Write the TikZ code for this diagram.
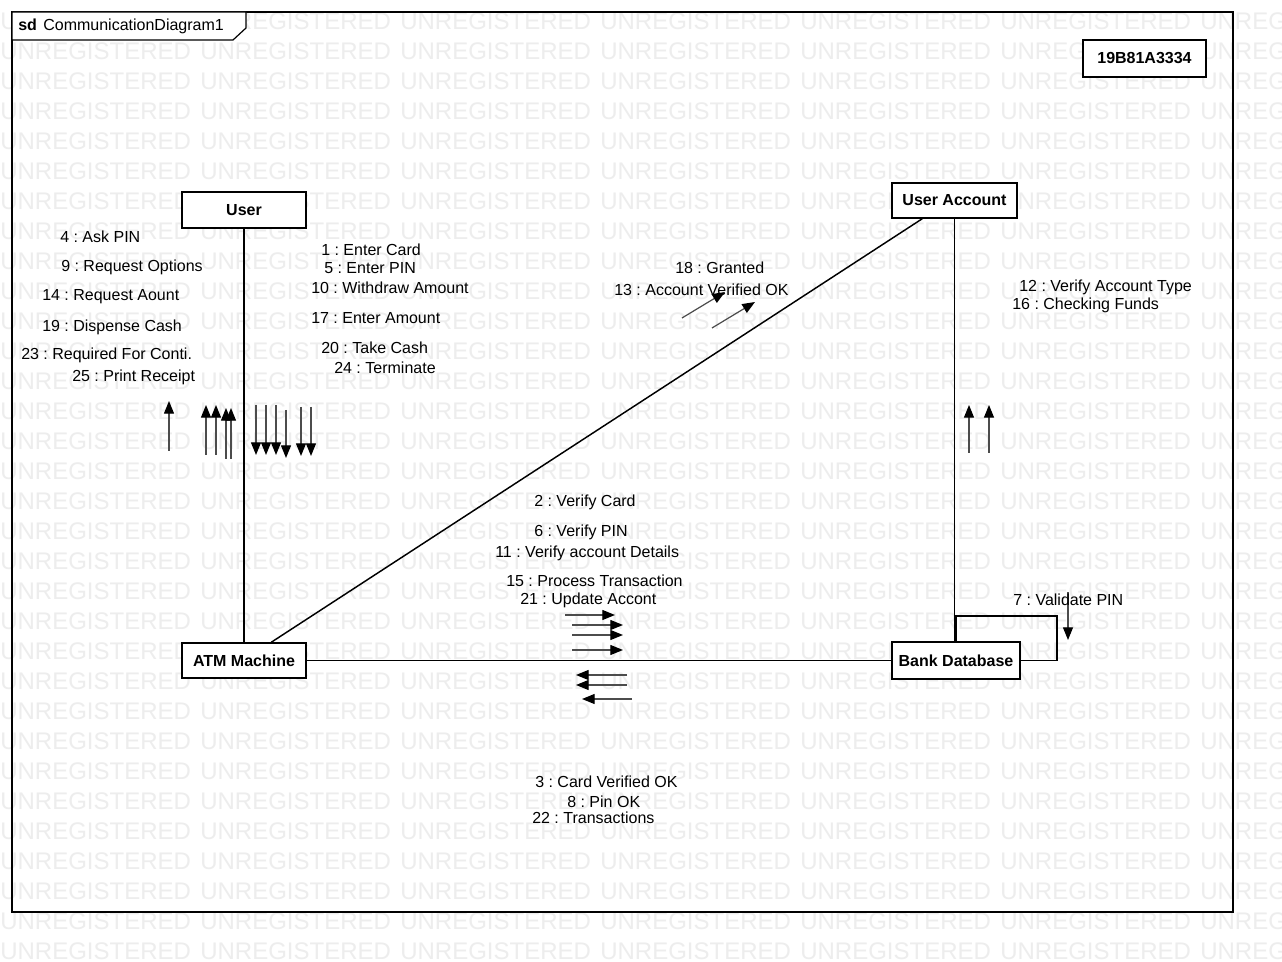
\documentclass[tikz,border=0pt]{standalone}
\usepackage{fontspec}
\setmainfont{Liberation Sans}
\usetikzlibrary{arrows.meta}
\begin{document}
\frenchspacing
\begin{tikzpicture}[x=0.75pt,y=-0.75pt,
  wm/.style={anchor=west,inner sep=0pt,text=black!7,font=\fontsize{18pt}{20pt}\selectfont},
  obj/.style={draw,fill=white,line width=1.1pt,font=\fontsize{12pt}{14pt}\selectfont\bfseries,inner sep=0pt},
  lbl/.style={anchor=west,inner sep=0pt,font=\fontsize{12pt}{14pt}\selectfont},
  conn/.style={line width=1.1pt},
  msg/.style={draw=black!70,line width=0.9pt,-{Triangle[length=9.5pt,width=7.5pt,color=black]}}]
\useasboundingbox (0,0) rectangle (1282,962);
\fill[white] (0,0) rectangle (1282,962);
% watermark
\begin{scope}
\clip (0,0) rectangle (1282,962);
\foreach \j in {0,...,31}{
  \foreach \i in {0,...,6}{
    \node[wm] (wm\i-\j) at (\i*200,21+\j*30) {UNREGISTERED};
  }
}
\end{scope}
% frame
\draw[line width=0.9pt] (12,12) rectangle (1233,912);
\draw[line width=0.9pt,fill=white] (12,12) -- (246,12) -- (246,28) -- (233,40) -- (12,40) -- cycle;
\node[lbl] (title) at (18,26) {\textbf{sd}\hspace{0.4em}CommunicationDiagram1};
% objects
\node[obj,minimum width=93pt,minimum height=27pt] (user) at (244,210) {User};
\node[obj,minimum width=93pt,minimum height=26.25pt] (atm) at (244,660.5) {ATM Machine};
\node[obj,minimum width=96pt,minimum height=27.75pt] (bank) at (956,660.5) {Bank Database};
\node[obj,minimum width=93.75pt,minimum height=26.25pt] (ua) at (954.5,200.5) {User Account};
\node[obj,minimum width=92.25pt,minimum height=27.75pt] (id) at (1144.5,58.5) {19B81A3334};
% connectors
\draw[conn] (user.south) -- (atm.north);
\draw[conn] (atm.east) -- (bank.west);
\draw[conn] ([xshift=67.5pt]atm.north west) -- ([xshift=23.25pt]ua.south west);
\draw[conn] (ua.south) -- (ua.south |- bank.north);
\draw[conn] (bank.north) |- (1057,616) |- (bank.east);
% message arrows User <-> ATM
\foreach \x/\a/\b in {169/451/401,206/455/405,216/455/405,226/459/408,231/459/408}
  \draw[msg] (\x,\a) -- (\x,\b);
\foreach \x/\a/\b in {256/405/455,266/405/455,276/405/455,286/410/458,301/407/456,311/407/456}
  \draw[msg] (\x,\a) -- (\x,\b);
% ATM <-> Bank
\draw[msg] (565,615) -- (615,615);
\foreach \y in {625,635,650} \draw[msg] (572,\y) -- (623,\y);
\draw[msg] (627,675) -- (576,675);
\draw[msg] (627,685) -- (576,685);
\draw[msg] (632,699) -- (582,699);
% ATM <-> User Account
\draw[msg] (682,318) -- (725,292);
\draw[msg] (712,328) -- (755,302);
% UA <-> Bank
\draw[msg] (969,453) -- (969,405);
\draw[msg] (989,453) -- (989,405);
% self loop
\draw[msg] (1068,592) -- (1068,640);
% labels
\node[lbl] (m4) at (60,237) {4 : Ask PIN};
\node[lbl] (m9) at (61,267) {9 : Request Options};
\node[lbl] (m14) at (42,297) {14 : Request Aount};
\node[lbl] (m19) at (42,327) {19 : Dispense Cash};
\node[lbl] (m23) at (21,355) {23 : Required For Conti.};
\node[lbl] (m25) at (72,377) {25 : Print Receipt};
\node[lbl] (m1) at (321,250) {1 : Enter Card};
\node[lbl] (m5) at (324,268) {5 : Enter PIN};
\node[lbl] (m10) at (311,288) {10 : Withdraw Amount};
\node[lbl] (m17) at (311,318) {17 : Enter Amount};
\node[lbl] (m20) at (321,348) {20 : Take Cash};
\node[lbl] (m24) at (334,368) {24 : Terminate};
\node[lbl] (m18) at (675,268) {18 : Granted};
\node[lbl] (m13) at (614,290) {13 : Account Verified OK};
\node[lbl] (m12) at (1019,287) {12 : Verify Account Type};
\node[lbl] (m16) at (1012,305) {16 : Checking Funds};
\node[lbl] (m2) at (534,502) {2 : Verify Card};
\node[lbl] (m6) at (534,532) {6 : Verify PIN};
\node[lbl] (m11) at (495,553) {11 : Verify account Details};
\node[lbl] (m15) at (506,581) {15 : Process Transaction};
\node[lbl] (m21) at (520,600) {21 : Update Accont};
\node[lbl] (m7) at (1013,600) {7 : Validate PIN};
\node[lbl] (m3) at (535,782) {3 : Card Verified OK};
\node[lbl] (m8) at (567,802) {8 : Pin OK};
\node[lbl] (m22) at (532,818) {22 : Transactions};
\end{tikzpicture}
\end{document}
